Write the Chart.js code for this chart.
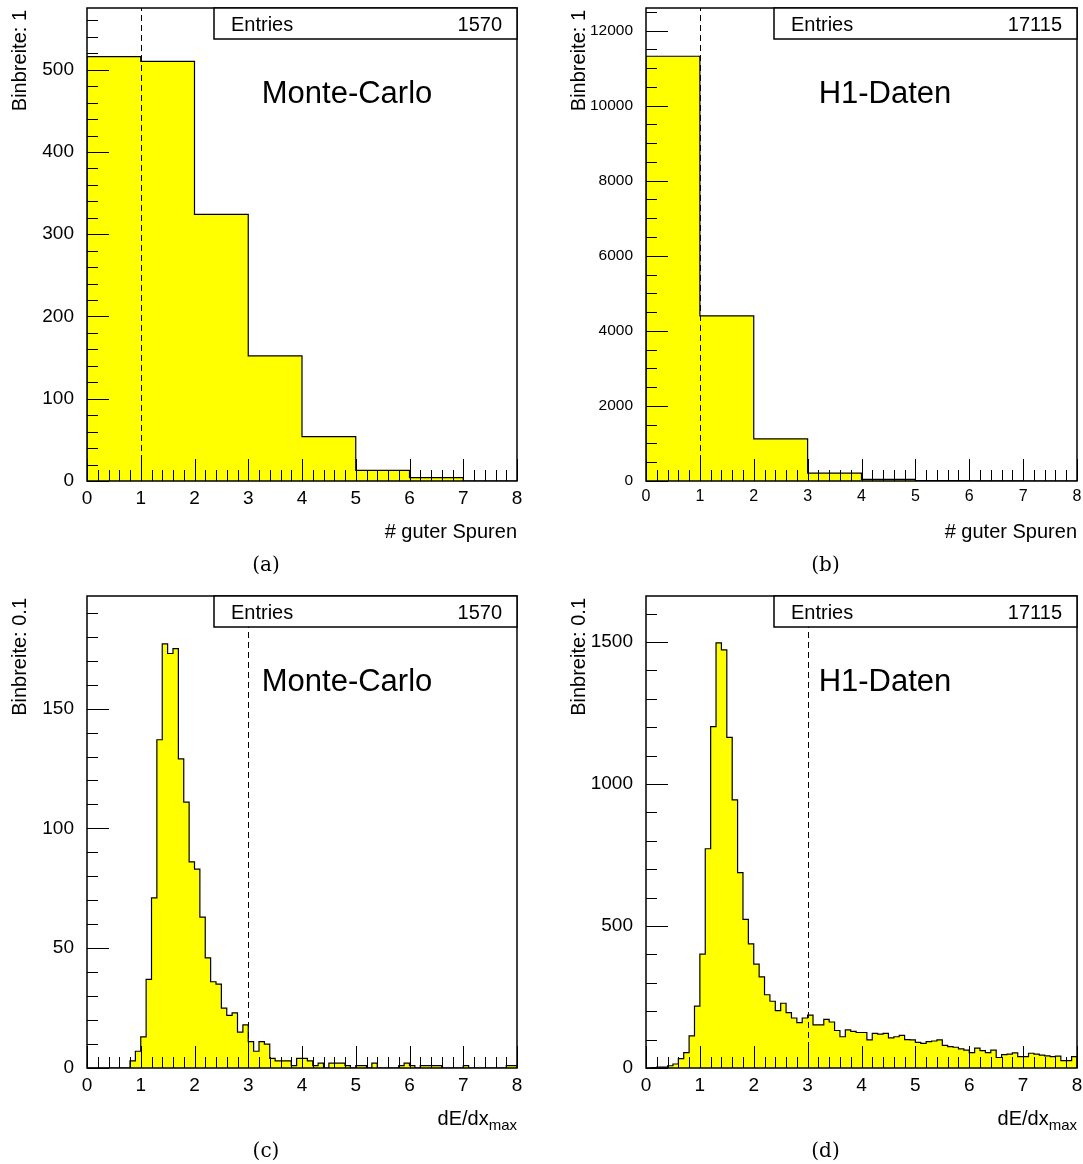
<!DOCTYPE html>
<html>
<head>
<meta charset="utf-8">
<script src="https://cdn.jsdelivr.net/npm/chart.js@4.4.0/dist/chart.umd.min.js"></script>
<style>
  body { margin: 0; background: #fff; }
  #wrap { position: relative; width: 1083px; height: 1164px; }
  .panel { position: absolute; width: 541px; height: 582px; }
</style>
</head>
<body>
<div id="wrap">
  <div class="panel" style="left:0;top:0"><canvas id="chartA" width="541" height="582"></canvas></div>
  <div class="panel" style="left:541px;top:0"><canvas id="chartB" width="541" height="582"></canvas></div>
  <div class="panel" style="left:0;top:582px"><canvas id="chartC" width="541" height="582"></canvas></div>
  <div class="panel" style="left:541px;top:582px"><canvas id="chartD" width="541" height="582"></canvas></div>
</div>
<script>
// number of good tracks, bins of width 1 (0..7)
const mcTracks   = [516, 510, 324, 152, 54, 13, 4, 0];
const dataTracks = [11315, 4400, 1120, 212, 45, 10, 2, 0];

// dE/dx max, bins of width 0.1 (0.0 .. 7.9)
const mcDedx = [
  0, 0, 0, 0, 0, 0, 0, 0, 3, 7,
  13, 37, 71, 137, 177, 173, 175, 129, 111, 86,
  83, 63, 46, 36, 35, 25, 22, 23, 15, 18,
  11, 7, 11, 10, 4, 3, 3, 3, 1, 4,
  4, 3, 1, 2, 0, 2, 2, 2, 1, 0,
  1, 1, 0, 2, 0, 0, 0, 0, 1, 2,
  1, 0, 1, 1, 1, 1, 0, 0, 0, 0,
  1, 0, 0, 0, 0, 0, 0, 0, 1, 1
];
const dataDedx = [
  0, 1, 3, 3, 8, 14, 33, 54, 113, 218,
  401, 772, 1202, 1497, 1472, 1164, 944, 688, 523, 437,
  366, 321, 258, 235, 202, 228, 195, 176, 160, 176,
  186, 152, 152, 171, 162, 132, 110, 134, 129, 125,
  125, 99, 122, 119, 122, 106, 110, 115, 100, 99,
  90, 87, 93, 95, 99, 80, 75, 73, 67, 63,
  54, 70, 61, 54, 63, 37, 47, 49, 53, 40,
  40, 52, 49, 45, 43, 40, 42, 26, 26, 40
];

const xTicks  = [0, 1, 2, 3, 4, 5, 6, 7, 8];
const yTicksA = [0, 100, 200, 300, 400, 500];
const yTicksB = [0, 2000, 4000, 6000, 8000, 10000, 12000];
const yTicksC = [0, 50, 100, 150];
const yTicksD = [0, 500, 1000, 1500];

const entries      = ['1570', '17115', '1570', '17115'];
const sampleLabels = ['Monte-Carlo', 'H1-Daten', 'Monte-Carlo', 'H1-Daten'];
const yTitles      = ['Binbreite: 1', 'Binbreite: 1', 'Binbreite: 0.1', 'Binbreite: 0.1'];
const captions     = ['(a)', '(b)', '(c)', '(d)'];

const FONT = "'Liberation Sans', Arial, Helvetica, sans-serif";
Chart.defaults.font.family = FONT;
Chart.defaults.color = '#000';

function histPoints(counts, binW) {
  const n = counts.length;
  const pts = [{ x: 0, y: 0 }];
  counts.forEach((c, i) => pts.push({ x: i * binW, y: c }));
  pts.push({ x: n * binW, y: counts[n - 1] });
  pts.push({ x: n * binW, y: 0 });
  return pts;
}

const decoPlugin = {
  id: 'deco',
  afterDatasetsDraw(chart) {
    const p = chart.options.plugins.deco;
    const ctx = chart.ctx;
    const a = chart.chartArea;
    const xs = chart.scales.x, ys = chart.scales.y;
    ctx.save();
    ctx.strokeStyle = '#000';
    ctx.fillStyle = '#000';

    // tick marks, inside the frame
    ctx.lineWidth = 1;
    ctx.beginPath();
    for (let k = 0; k <= 40; k++) {
      const v = k * 0.2;
      const x = Math.round(xs.getPixelForValue(v)) + 0.5;
      const len = k % 5 === 0 ? 22 : 11;
      ctx.moveTo(x, a.bottom);
      ctx.lineTo(x, a.bottom - len);
    }
    for (let k = 0; k * p.yMinor <= ys.max; k++) {
      const v = k * p.yMinor;
      const y = Math.round(ys.getPixelForValue(v)) + 0.5;
      const len = v % p.yMajor === 0 ? 22 : 11;
      ctx.moveTo(a.left, y);
      ctx.lineTo(a.left + len, y);
    }
    ctx.stroke();

    // dashed cut line
    ctx.setLineDash([6, 4]);
    const cx = Math.round(xs.getPixelForValue(p.cutX)) + 0.5;
    ctx.beginPath();
    ctx.moveTo(cx, a.bottom);
    ctx.lineTo(cx, a.top);
    ctx.stroke();
    ctx.setLineDash([]);

    // frame
    ctx.lineWidth = 1.5;
    ctx.strokeRect(a.left, a.top, a.right - a.left, a.bottom - a.top);

    // stats box
    const bh = 31;
    ctx.fillStyle = '#fff';
    ctx.fillRect(p.boxLeft, a.top, a.right - p.boxLeft, bh);
    ctx.strokeRect(p.boxLeft, a.top, a.right - p.boxLeft, bh);
    ctx.fillStyle = '#000';
    ctx.font = '20px ' + FONT;
    ctx.textBaseline = 'alphabetic';
    ctx.textAlign = 'left';
    ctx.fillText('Entries', p.boxLeft + 17, a.top + 23);
    ctx.textAlign = 'right';
    ctx.fillText(p.entries, a.right - 15, a.top + 23);

    // sample label
    ctx.font = '31px ' + FONT;
    ctx.textAlign = 'center';
    ctx.fillText(p.label, p.labelX, a.top + 95);

    // y title, rotated, aligned to the top
    ctx.save();
    ctx.font = '20px ' + FONT;
    ctx.translate(p.yTitleX, a.top + 2);
    ctx.rotate(-Math.PI / 2);
    ctx.textAlign = 'right';
    ctx.textBaseline = 'middle';
    ctx.fillText(p.yTitle, 0, 0);
    ctx.restore();

    // x title, right aligned
    ctx.textAlign = 'right';
    ctx.textBaseline = 'alphabetic';
    const ty = a.bottom + 57;
    if (p.xTitleSub) {
      ctx.font = '15px ' + FONT;
      const sw = ctx.measureText(p.xTitleSub).width;
      ctx.fillText(p.xTitleSub, a.right, ty + 5);
      ctx.font = '20px ' + FONT;
      ctx.fillText(p.xTitle, a.right - sw, ty);
    } else {
      ctx.font = '20px ' + FONT;
      ctx.fillText(p.xTitle, a.right, ty);
    }

    // caption
    ctx.font = "20px 'DejaVu Serif', serif";
    ctx.textAlign = 'center';
    ctx.textBaseline = 'middle';
    ctx.fillText(p.caption, (a.left + a.right) / 2 - 36, p.captionY);
    ctx.restore();
  }
};

function makeChart(id, c) {
  new Chart(document.getElementById(id), {
    type: 'line',
    data: {
      datasets: [{
        data: histPoints(c.counts, c.binW),
        stepped: 'before',
        fill: 'origin',
        backgroundColor: '#ffff00',
        borderColor: '#000',
        borderWidth: 1.2,
        pointRadius: 0
      }]
    },
    options: {
      responsive: false,
      animation: false,
      devicePixelRatio: 1,
      layout: { padding: { left: 0, top: c.top, right: c.right, bottom: 0 } },
      plugins: {
        legend: { display: false },
        tooltip: { enabled: false },
        deco: c.deco
      },
      scales: {
        x: {
          type: 'linear', min: 0, max: 8,
          grid: { display: false, drawTicks: false },
          border: { display: false },
          afterBuildTicks: s => { s.ticks = xTicks.map(v => ({ value: v })); },
          afterFit: s => { s.height = c.xAxisH; s.paddingLeft = 0; s.paddingRight = 0; },
          ticks: { padding: 6, autoSkip: false, maxRotation: 0, font: { size: c.xFont }, color: '#000',
                   callback: v => String(v) }
        },
        y: {
          type: 'linear', min: 0, max: c.yMax,
          grid: { display: false, drawTicks: false },
          border: { display: false },
          afterBuildTicks: s => { s.ticks = c.yTicks.map(v => ({ value: v })); },
          afterFit: s => { s.width = c.yAxisW; s.paddingTop = 0; s.paddingBottom = 0; },
          ticks: { padding: 13, autoSkip: false, font: { size: c.yFont }, color: '#000',
                   callback: v => String(v) }
        }
      }
    },
    plugins: [decoPlugin]
  });
}

makeChart('chartA', {
  counts: mcTracks, binW: 1, yMax: 575, yTicks: yTicksA,
  top: 8, right: 24, xAxisH: 101, yAxisW: 87, xFont: 19, yFont: 19,
  deco: { yMinor: 20, yMajor: 100, cutX: 1, boxLeft: 214, entries: entries[0], label: sampleLabels[0],
          labelX: 347, yTitle: yTitles[0], yTitleX: 20, xTitle: '# guter Spuren', caption: captions[0], captionY: 566 }
});
makeChart('chartB', {
  counts: dataTracks, binW: 1, yMax: 12600, yTicks: yTicksB,
  top: 8, right: 5, xAxisH: 101, yAxisW: 105, xFont: 16, yFont: 15.5,
  deco: { yMinor: 500, yMajor: 2000, cutX: 1, boxLeft: 233, entries: entries[1], label: sampleLabels[1],
          labelX: 344, yTitle: yTitles[1], yTitleX: 38, xTitle: '# guter Spuren', caption: captions[1], captionY: 566 }
});
makeChart('chartC', {
  counts: mcDedx, binW: 0.1, yMax: 197, yTicks: yTicksC,
  top: 14, right: 24, xAxisH: 96, yAxisW: 87, xFont: 19, yFont: 19,
  deco: { yMinor: 10, yMajor: 50, cutX: 3, boxLeft: 214, entries: entries[2], label: sampleLabels[2],
          labelX: 347, yTitle: yTitles[2], yTitleX: 20, xTitle: 'dE/dx', xTitleSub: 'max', caption: captions[2], captionY: 570 }
});
makeChart('chartD', {
  counts: dataDedx, binW: 0.1, yMax: 1662, yTicks: yTicksD,
  top: 14, right: 5, xAxisH: 96, yAxisW: 105, xFont: 19, yFont: 19,
  deco: { yMinor: 100, yMajor: 500, cutX: 3, boxLeft: 233, entries: entries[3], label: sampleLabels[3],
          labelX: 344, yTitle: yTitles[3], yTitleX: 38, xTitle: 'dE/dx', xTitleSub: 'max', caption: captions[3], captionY: 570 }
});
</script>
</body>
</html>
